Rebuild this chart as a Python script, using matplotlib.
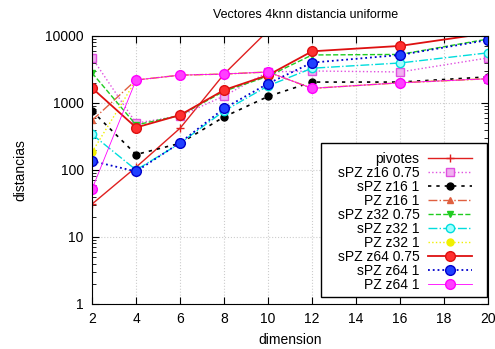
import matplotlib
matplotlib.use('Agg')
from matplotlib import pyplot as plt
from matplotlib.patches import Rectangle
import numpy as np

plt.rcParams['font.family'] = ['Liberation Sans', 'DejaVu Sans']
plt.rcParams['font.size'] = 10

dims = [2, 4, 6, 8, 10, 12, 16, 20]

# valores (eje y logaritmico)
pivotes = [31, 110, 420, 2700, 12000, 30000, 100000, 300000]
spz_z16_075 = [4700, 500, 640, 1270, 2900, 3000, 2900, 4700]
spz_z16_1 = [760, 170, 250, 620, 1250, 2050, 2050, 2450]
pz_z16_1 = [550, 2200, 2600, 2700, 2900, 1650, 2000, 2300]
spz_z32_075 = [2800, 470, 650, 1500, 2500, 5200, 5300, 9000]
spz_z32_1 = [340, 100, 250, 760, 1800, 3300, 3950, 5600]
pz_z32_1 = [185, 2200, 2600, 2700, 2900, 1650, 2000, 2300]
spz_z64_075 = [1670, 430, 660, 1560, 2600, 5900, 7100, 11000]
spz_z64_1 = [136, 95, 255, 830, 1950, 4000, 5200, 8700]
pz_z64_1 = [52, 2200, 2600, 2700, 2900, 1650, 2000, 2300]

series = [
    ('pivotes', pivotes, dict(color='#e02020', ls='-', marker='+', ms=6, lw=1.0)),
    ('sPZ z16 0.75', spz_z16_075, dict(color='#e050e0', ls=':', marker='s', ms=6,
                                       mfc='#f0b0f0', lw=1.0)),
    ('sPZ z16 1', spz_z16_1, dict(color='black', ls=(0, (2, 3)), marker='o', ms=5, lw=1.2)),
    ('PZ z16 1', pz_z16_1, dict(color='#e06040', ls='-.', marker='^', ms=5, lw=1.0)),
    ('sPZ z32 0.75', spz_z32_075, dict(color='#20cc20', ls='--', marker='v', ms=5, lw=1.0)),
    ('sPZ z32 1', spz_z32_1, dict(color='#00dddd', ls='-.', marker='o', ms=6,
                                  mfc='#a0ffff', lw=1.0)),
    ('PZ z32 1', pz_z32_1, dict(color='#f0f000', ls=':', marker='o', ms=5, lw=1.0)),
    ('sPZ z64 0.75', spz_z64_075, dict(color='#dd1010', ls='-', marker='o', ms=7,
                                       mfc='#ff3030', lw=1.3)),
    ('sPZ z64 1', spz_z64_1, dict(color='#0000cc', ls=':', marker='o', ms=7,
                                  mfc='#2040ff', lw=1.3)),
    ('PZ z64 1', pz_z64_1, dict(color='#ff00ff', ls='-', marker='o', ms=7,
                                mfc='#ff40ff', lw=0.6)),
]

fig = plt.figure(figsize=(4.95, 3.49), dpi=100)
ax = fig.add_axes([0.186, 0.129, 0.8, 0.768])

for label, vals, st in series:
    ax.plot(dims, vals, label=label, **st)

ax.set_yscale('log')
ax.set_xlim(2, 20)
ax.set_ylim(1, 10000)
ax.set_xticks(np.arange(2, 21, 2))
ax.set_yticks([1, 10, 100, 1000, 10000])
ax.set_yticklabels(['1', '10', '100', '1000', '10000'])
ax.tick_params(which='both', direction='in', top=True, right=True)
ax.tick_params(which='major', length=5)
ax.tick_params(which='minor', length=3)
ax.tick_params(axis='x', pad=6)
ax.tick_params(axis='y', pad=6)
ax.grid(True, which='major', color='#cccccc', ls=':', lw=0.8)

ax.set_title('Vectores 4knn distancia uniforme', fontsize=9, x=0.54, pad=13)
ax.set_xlabel('dimension', labelpad=5)
ax.set_ylabel('distancias', labelpad=13)

# caja de la leyenda al estilo gnuplot
box = Rectangle((0.578, 0.026), 0.419, 0.575, transform=ax.transAxes,
                facecolor='white', edgecolor='black', lw=1.0, zorder=4.9)
ax.add_patch(box)
leg = ax.legend(loc='lower right', bbox_to_anchor=(0.96, 0.045), borderaxespad=0,
                markerfirst=False, frameon=False, borderpad=0,
                handlelength=3.2, handletextpad=0.6, labelspacing=0.0)

fig.savefig('out.png', dpi=100)
